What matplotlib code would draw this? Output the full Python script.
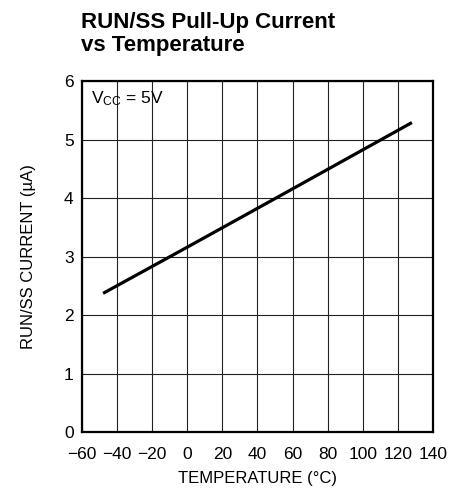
import matplotlib
matplotlib.use("Agg")
import matplotlib.pyplot as plt
from matplotlib import font_manager

fams = {f.name for f in font_manager.fontManager.ttflist}
narrow = 'Liberation Sans Narrow' if 'Liberation Sans Narrow' in fams else 'Liberation Sans'
plt.rcParams['font.family'] = [narrow, 'DejaVu Sans']
plt.rcParams['mathtext.fontset'] = 'custom'
plt.rcParams['mathtext.rm'] = narrow
plt.rcParams['mathtext.it'] = narrow

# data
temperature = [-48, 0, 50, 128]
current = [2.37, 3.16, 3.99, 5.29]
xticks = [-60, -40, -20, 0, 20, 40, 60, 80, 100, 120, 140]
yticks = [0, 1, 2, 3, 4, 5, 6]

fig = plt.figure(figsize=(4.64, 4.94), dpi=100)
ax = fig.add_axes([82/464, 62/494, 351/464, 351/494])
ax.plot(temperature, current, color='black', lw=2.3, solid_capstyle='butt')
ax.set_xlim(-60, 140)
ax.set_ylim(0, 6)
ax.set_xticks(xticks)
ax.set_yticks(yticks)
ax.set_xticklabels(['\u221260', '\u221240', '\u221220'] + [str(t) for t in xticks[3:]])
ax.grid(True, color='#222222', lw=0.8)
ax.tick_params(length=0, labelsize=12.5)
ax.tick_params(axis='x', pad=11)
ax.tick_params(axis='y', pad=6)
for s in ax.spines.values():
    s.set_linewidth(1.6)
ax.set_xlabel('TEMPERATURE (\u00b0C)', fontsize=12, labelpad=6)
ax.set_ylabel('RUN/SS CURRENT (\u00b5A)', fontsize=12, labelpad=20)
ax.text(-55, 5.85, r'V$_{\rm CC}$ = 5V', fontsize=12.5, va='top', ha='left')
fig.text(81/464, 1 - 12/494, 'RUN/SS Pull-Up Current\nvs Temperature', fontsize=16,
         fontweight='bold', ha='left', va='top', linespacing=1.15)
fig.savefig('out.png', dpi=100)
